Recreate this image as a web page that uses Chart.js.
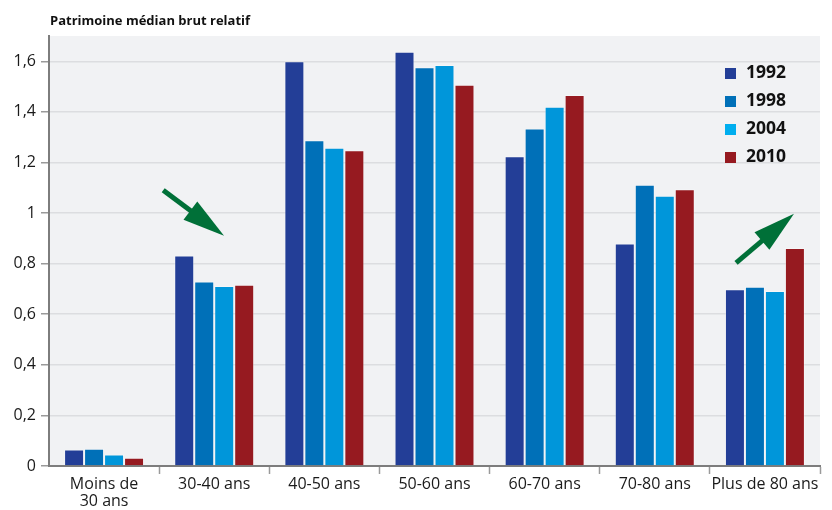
<!DOCTYPE html>
<html><head><meta charset="utf-8">
<script src="https://cdn.jsdelivr.net/npm/chart.js@4"></script>
<style>html,body{margin:0;padding:0;background:#fff}canvas{display:block}</style>
</head><body>
<canvas id="c" width="832" height="510"></canvas>
<script>
const categories = [["Moins de", "30 ans"], "30-40 ans", "40-50 ans", "50-60 ans", "60-70 ans", "70-80 ans", "Plus de 80 ans"];
const seriesNames = ["1992", "1998", "2004", "2010"];
const values1992 = [0.065, 0.832, 1.600, 1.638, 1.225, 0.880, 0.699];
const values1998 = [0.068, 0.729, 1.288, 1.576, 1.334, 1.112, 0.709];
const values2004 = [0.045, 0.712, 1.258, 1.585, 1.420, 1.068, 0.692];
const values2010 = [0.033, 0.717, 1.248, 1.507, 1.467, 1.094, 0.862];
const yTicks = [0, 0.2, 0.4, 0.6, 0.8, 1, 1.2, 1.4, 1.6];
const chartTitle = "Patrimoine médian brut relatif";
const barColors = ["#233e97", "#0070b8", "#0096da", "#961a20"];
const legendColors = ["#233e97", "#0070b8", "#00aeef", "#961a20"];
// arrows: category index, offset within category (fraction of width from center), value
const arrows = [
  { cat: 1, from: [-0.463, 1.090], to: [0.089, 0.910] },
  { cat: 6, from: [-0.262, 0.803], to: [0.264, 0.997] }
];

const FONT = "'Open Sans', 'DejaVu Sans', sans-serif";
const seriesValues = [values1992, values1998, values2004, values2010];

const decorPlugin = {
  id: 'decor',
  beforeDraw(chart) {
    const { ctx, chartArea: a } = chart;
    ctx.save();
    ctx.fillStyle = '#f1f2f4';
    ctx.fillRect(a.left, a.top, a.right - a.left, a.bottom - a.top);
    ctx.restore();
  },
  afterDatasetsDraw(chart) {
    const { ctx, chartArea: a, scales } = chart;
    const xs = scales.x, ys = scales.y;
    const catW = (a.right - a.left) / categories.length;
    ctx.save();
    arrows.forEach(ar => {
      const cx = xs.getPixelForValue(ar.cat);
      const x0 = cx + ar.from[0] * catW, y0 = ys.getPixelForValue(ar.from[1]);
      const x1 = cx + ar.to[0] * catW, y1 = ys.getPixelForValue(ar.to[1]);
      const ang = Math.atan2(y1 - y0, x1 - x0);
      const headLen = 42, headHalf = 11.5;
      const bx = x1 - headLen * Math.cos(ang), by = y1 - headLen * Math.sin(ang);
      ctx.strokeStyle = '#007038';
      ctx.fillStyle = '#007038';
      ctx.lineWidth = 5;
      ctx.lineCap = 'butt';
      ctx.beginPath();
      ctx.moveTo(x0, y0);
      ctx.lineTo(bx + 2 * Math.cos(ang), by + 2 * Math.sin(ang));
      ctx.stroke();
      ctx.beginPath();
      ctx.moveTo(x1, y1);
      ctx.lineTo(bx + headHalf * Math.sin(ang), by - headHalf * Math.cos(ang));
      ctx.lineTo(bx - headHalf * Math.sin(ang), by + headHalf * Math.cos(ang));
      ctx.closePath();
      ctx.fill();
    });
    const lx = a.right - 95;
    let ly = a.top + 37.5;
    ctx.textBaseline = 'middle';
    ctx.textAlign = 'left';
    ctx.font = "bold 17.5px " + FONT;
    chart.data.datasets.forEach((ds, i) => {
      ctx.fillStyle = legendColors[i];
      ctx.fillRect(lx, ly - 5.5, 11, 11);
      ctx.fillStyle = '#111';
      ctx.fillText(ds.label, lx + 21, ly);
      ly += 28;
    });
    ctx.font = "bold 13px " + FONT;
    ctx.textBaseline = 'alphabetic';
    ctx.fillStyle = '#111';
    ctx.fillText(chartTitle, a.left + 1, 25);
    ctx.restore();
  }
};

new Chart(document.getElementById('c'), {
  type: 'bar',
  data: {
    labels: categories,
    datasets: seriesNames.map((name, i) => ({
      label: name,
      data: seriesValues[i],
      backgroundColor: barColors[i],
      borderColor: 'rgba(255,255,255,0.3)',
      borderWidth: 1,
      categoryPercentage: 0.726,
      barPercentage: 1
    }))
  },
  options: {
    responsive: false,
    animation: false,
    devicePixelRatio: 1,
    layout: { padding: { top: 36, right: 12, left: 0, bottom: 0 } },
    plugins: { legend: { display: false }, tooltip: { enabled: false }, title: { display: false } },
    scales: {
      x: {
        afterFit(scale) { scale.height = 44; },
        grid: {
          offset: true,
          drawOnChartArea: false,
          drawTicks: true,
          tickLength: 8,
          tickWidth: 1.5,
          tickColor: ctx => (ctx.index === 0 || ctx.index === categories.length) ? 'rgba(0,0,0,0)' : '#9a9a9a'
        },
        border: { display: true, color: '#7d7d7d', width: 2 },
        ticks: {
          color: '#1a1a1a',
          padding: 2,
          maxRotation: 0,
          autoSkip: false,
          font: { family: FONT, size: 16, lineHeight: 1.07 }
        }
      },
      y: {
        min: 0,
        max: 1.7,
        afterFit(scale) { scale.width = 49; },
        afterBuildTicks(scale) { scale.ticks = yTicks.map(v => ({ value: v })); },
        grid: {
          color: '#dcdde0',
          lineWidth: 1.5,
          drawTicks: true,
          tickLength: 8,
          tickColor: '#9a9a9a',
          tickWidth: 1.5
        },
        border: { display: true, color: '#7d7d7d', width: 2 },
        ticks: {
          color: '#1a1a1a',
          padding: 5,
          font: { family: FONT, size: 16 },
          callback: v => String(Math.round(v * 10) / 10).replace('.', ',')
        }
      }
    }
  },
  plugins: [decorPlugin]
});
</script>
</body></html>
